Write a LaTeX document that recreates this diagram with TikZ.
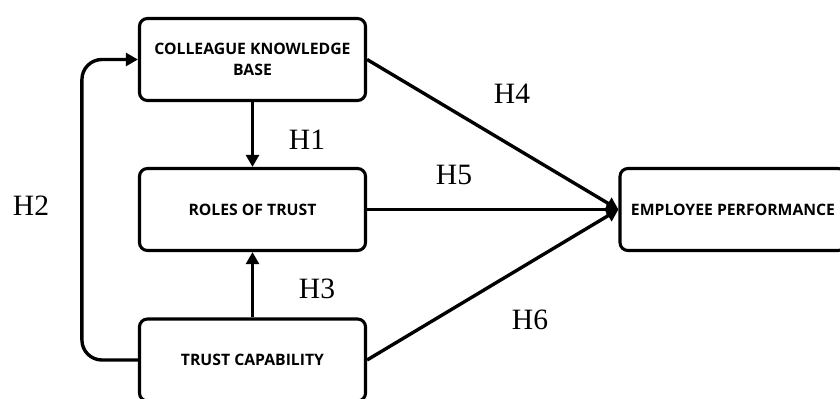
\documentclass[tikz,border=0pt]{standalone}
\usepackage{fontspec}
\setmainfont{Liberation Serif}
\newfontfamily\boxfont{Open Sans}
\usepackage{tikz}
\usetikzlibrary{arrows.meta, positioning, calc}

\begin{document}
\begin{tikzpicture}[x=0.025cm, y=-0.025cm,
    varbox/.style={draw, line width=2.2pt, rounded corners=0.2cm, minimum width=5.65cm, minimum height=2.05cm,
      align=center, font=\boxfont\bfseries\fontsize{11.2}{15}\selectfont},
    hyplabel/.style={font=\fontsize{21}{24}\selectfont},
    link/.style={line width=2.4pt, -{Triangle[length=0.3cm, width=0.32cm]}}]
  % frame of the picture
  \useasboundingbox (0,0) rectangle (840,399);
  \clip (0,0) rectangle (840,399);

  % variables
  \node[varbox] (ckb) at (252.5, 59.5) {COLLEAGUE KNOWLEDGE\\BASE};
  \node[varbox] (rot) at (252.5, 209.5) {ROLES OF TRUST};
  \node[varbox] (tc) at (252.5, 360) {TRUST CAPABILITY};
  \node[varbox] (ep) at (733, 209.5) {EMPLOYEE PERFORMANCE};

  % hypotheses
  \draw[link] (ckb.south) -- (rot.north);
  \draw[link] (tc.north) -- (rot.south);
  \draw[link, rounded corners=0.5cm] (tc.west) -- ++(-56,0) |- (ckb.west);
  \draw[link] (ckb.east) -- (ep.west);
  \draw[link] (rot.east) -- (ep.west);
  \draw[link] (tc.east) -- (ep.west);

  \node[hyplabel] (h1) at (307, 140) {H1};
  \node[hyplabel] (h2) at (31, 206) {H2};
  \node[hyplabel] (h3) at (317, 289) {H3};
  \node[hyplabel] (h4) at (512, 94) {H4};
  \node[hyplabel] (h5) at (454, 175) {H5};
  \node[hyplabel] (h6) at (530, 320) {H6};
\end{tikzpicture}
\end{document}
